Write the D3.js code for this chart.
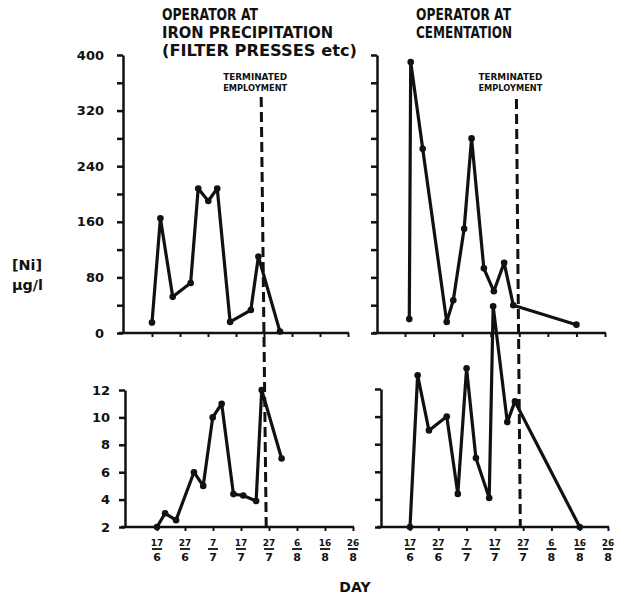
<!DOCTYPE html>
<html>
<head>
<meta charset="utf-8">
<script src="https://cdn.jsdelivr.net/npm/d3@7"></script>
<style>
  body { margin: 0; background: #fff; }
  svg { display: block; }
</style>
</head>
<body>
<svg id="chart"></svg>
<script>
// x ticks: day / month, days counted from 17 June
const tickDays = [0, 10, 20, 30, 40, 50, 60, 70];
const tickDay = ['17', '27', '7', '17', '27', '6', '16', '26'];
const tickMonth = ['6', '6', '7', '7', '7', '8', '8', '8'];
const terminatedDay = 39;

// top row, 0-400
const ironTopDays = [0, 3, 7.4, 13.8, 16.5, 20.1, 23.3, 27.9, 35.3, 38, 45.7];
const ironTopNi = [15, 165, 52, 72, 208, 190, 208, 16, 33, 110, 2];
const cemTopDays = [1.5, 2, 6.2, 14.6, 16.9, 20.7, 23.3, 27.6, 31.1, 34.7, 37.9, 60];
const cemTopNi = [20, 390, 265, 16, 47, 150, 280, 93, 60, 101, 40, 12];

// bottom row, 2-12
const ironBotDays = [0, 2.9, 6.8, 13.2, 16.5, 19.9, 23.1, 27.3, 30.8, 35.4, 37.4, 44.5];
const ironBotNi = [2, 3, 2.5, 6, 5, 10, 11, 4.4, 4.3, 3.9, 12, 7];
const cemBotDays = [0, 2.7, 6.7, 13, 16.9, 20, 23.3, 28, 29.4, 34.4, 37.1, 60];
const cemBotNi = [2, 13, 9, 10, 4.4, 13.5, 7, 4.1, 18, 9.6, 11.1, 2];

const topTicks = d3.range(0, 401, 40);
const botTicks = d3.range(2, 13, 2);

const width = 624, height = 604;
const ink = '#111';
const font = 'DejaVu Sans';

const svg = d3.select('#chart').attr('width', width).attr('height', height);

// panel geometry (the scan is a little skewed, so each panel has its own)
const panels = [
  { days: ironTopDays, vals: ironTopNi, axisX: 123, x0: 152, x1: 348, yTop: 55, yBot: 333, dom: [0, 400], ticks: topTicks, labels: true, labelEvery: 80, pad: 13, xLabels: false },
  { days: cemTopDays, vals: cemTopNi, axisX: 377, x0: 405, x1: 605, yTop: 55, yBot: 333, dom: [0, 400], ticks: topTicks, labels: false, xLabels: false },
  { days: ironBotDays, vals: ironBotNi, axisX: 125, x0: 157, x1: 353, yTop: 390, yBot: 527, dom: [2, 12], ticks: botTicks, labels: true, labelEvery: 2, pad: 9, xLabels: true },
  { days: cemBotDays, vals: cemBotNi, axisX: 381, x0: 410, x1: 608, yTop: 389, yBot: 527, dom: [2, 12], ticks: botTicks, labels: false, xLabels: true },
];

panels.forEach(p => {
  p.x = d3.scaleLinear().domain([0, 70]).range([p.x0, p.x1]);
  p.y = d3.scaleLinear().domain(p.dom).range([p.yBot, p.yTop]);
});

panels.forEach(p => {
  const g = svg.append('g');

  // y axis
  const yAxis = d3.axisLeft(p.y)
    .tickValues(p.ticks)
    .tickSize(6)
    .tickSizeOuter(0)
    .tickPadding(p.pad || 8)
    .tickFormat(d => (p.labels && d % p.labelEvery === 0) ? d : '');
  const ya = g.append('g')
    .attr('transform', `translate(${p.axisX},0)`)
    .call(yAxis);
  ya.selectAll('path, line').attr('stroke', ink).attr('stroke-width', 2.5);
  ya.selectAll('text')
    .attr('fill', ink)
    .attr('font-family', font)
    .attr('font-weight', 'bold')
    .attr('font-size', 13);

  // x axis
  g.append('line')
    .attr('x1', p.axisX - 4).attr('x2', p.x(70) + 1)
    .attr('y1', p.yBot).attr('y2', p.yBot)
    .attr('stroke', ink).attr('stroke-width', 2.5);
  const xAxis = d3.axisBottom(p.x).tickValues(tickDays).tickSize(4).tickSizeOuter(0).tickFormat('');
  const xa = g.append('g')
    .attr('transform', `translate(0,${p.yBot})`)
    .call(xAxis);
  xa.select('.domain').remove();
  xa.selectAll('line').attr('stroke', ink).attr('stroke-width', 2);

  if (p.xLabels) {
    const lab = g.selectAll('g.frac')
      .data(tickDays)
      .join('g')
      .attr('class', 'frac')
      .attr('transform', d => `translate(${p.x(d)},0)`);
    lab.append('text')
      .attr('y', p.yBot + 19)
      .attr('text-anchor', 'middle')
      .attr('font-family', font).attr('font-weight', 'bold').attr('font-size', 9)
      .attr('fill', ink)
      .text((d, i) => tickDay[i]);
    lab.append('line')
      .attr('x1', -5).attr('x2', 5)
      .attr('y1', p.yBot + 22).attr('y2', p.yBot + 22)
      .attr('stroke', ink).attr('stroke-width', 1.8);
    lab.append('text')
      .attr('y', p.yBot + 34)
      .attr('text-anchor', 'middle')
      .attr('font-family', font).attr('font-weight', 'bold').attr('font-size', 11)
      .attr('fill', ink)
      .text((d, i) => tickMonth[i]);
  }

  // series
  const pts = p.days.map((d, i) => [d, p.vals[i]]);
  const line = d3.line().x(d => p.x(d[0])).y(d => p.y(d[1]));
  g.append('path')
    .datum(pts)
    .attr('d', line)
    .attr('fill', 'none')
    .attr('stroke', ink)
    .attr('stroke-width', 3.2)
    .attr('stroke-linejoin', 'round');
  g.selectAll('circle')
    .data(pts)
    .join('circle')
    .attr('cx', d => p.x(d[0]))
    .attr('cy', d => p.y(d[1]))
    .attr('r', 3.3)
    .attr('fill', ink);
});

// terminated employment dashed lines, one per column
[[panels[0], panels[2], 97], [panels[1], panels[3], 99]].forEach(([top, bot, y0]) => {
  const xt = top.x(terminatedDay), xb = bot.x(terminatedDay);
  svg.append('line')
    .attr('x1', xt).attr('y1', y0)
    .attr('x2', xb).attr('y2', bot.yBot)
    .attr('stroke', ink)
    .attr('stroke-width', 3)
    .attr('stroke-dasharray', '10,5');
  const cx = xt - 6;
  [['TERMINATED', 80], ['EMPLOYMENT', 91]].forEach(([t, yy]) => {
    svg.append('text')
      .attr('x', cx).attr('y', yy)
      .attr('text-anchor', 'middle')
      .attr('font-family', font).attr('font-weight', 'bold').attr('font-size', 8.5)
      .attr('textLength', 64).attr('lengthAdjust', 'spacingAndGlyphs')
      .attr('fill', ink)
      .text(t);
  });
});

// panel titles
const titles = [
  { x: 162, lines: [['OPERATOR AT', 20, 96], ['IRON PRECIPITATION', 38, 171], ['(FILTER PRESSES etc)', 56, 195]] },
  { x: 416, lines: [['OPERATOR AT', 20, 95], ['CEMENTATION', 38, 96]] },
];
titles.forEach(t => {
  t.lines.forEach(([s, y, w]) => {
    svg.append('text')
      .attr('x', t.x).attr('y', y)
      .attr('font-family', font).attr('font-weight', 'bold').attr('font-size', 16)
      .attr('textLength', w).attr('lengthAdjust', 'spacingAndGlyphs')
      .attr('fill', ink)
      .text(s);
  });
});

// y label
svg.append('text')
  .attr('x', 12).attr('y', 270)
  .attr('font-family', font).attr('font-weight', 'bold').attr('font-size', 14)
  .attr('textLength', 30).attr('lengthAdjust', 'spacingAndGlyphs')
  .attr('fill', ink)
  .text('[Ni]');
svg.append('text')
  .attr('x', 12).attr('y', 290)
  .attr('font-family', font).attr('font-weight', 'bold').attr('font-size', 14)
  .attr('textLength', 31).attr('lengthAdjust', 'spacingAndGlyphs')
  .attr('fill', ink)
  .text('µg/l');

// x label
svg.append('text')
  .attr('x', 355).attr('y', 592)
  .attr('text-anchor', 'middle')
  .attr('font-family', font).attr('font-weight', 'bold').attr('font-size', 14)
  .attr('fill', ink)
  .text('DAY');
</script>
</body>
</html>
